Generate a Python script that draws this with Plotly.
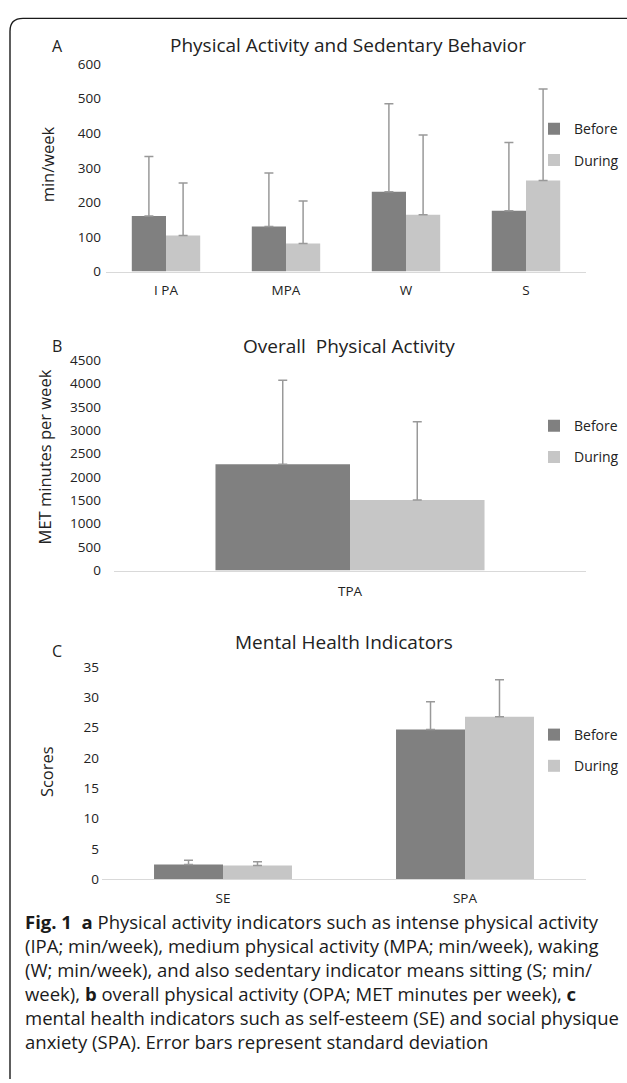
import plotly.graph_objects as go

W, H = 627, 1083

def px_x(p):
    return p / W

def px_y(p):
    return 1 - p / H

# ---------------- data ----------------
series_names = ["Before", "During"]
colors = {"Before": "#808080", "During": "#c6c6c6"}

a_categories = ["I PA", "MPA", "W", "S"]
a_before = [161, 130, 231, 176]
a_during = [104, 81, 164, 263]
a_before_sd = [172, 155, 254, 197]
a_during_sd = [152, 123, 231, 265]
a_ticks = [0, 100, 200, 300, 400, 500, 600]

b_categories = ["TPA"]
b_before = [2270]
b_during = [1510]
b_before_sd = [1800]
b_during_sd = [1670]
b_ticks = [0, 500, 1000, 1500, 2000, 2500, 3000, 3500, 4000, 4500]

c_categories = ["SE", "SPA"]
c_before = [2.43, 24.67]
c_during = [2.27, 26.78]
c_before_sd = [0.71, 4.6]
c_during_sd = [0.60, 6.1]
c_ticks = [0, 5, 10, 15, 20, 25, 30, 35]

caption_lines = [
    "<b>Fig. 1</b>&nbsp; <b>a</b> Physical activity indicators such as intense physical activity",
    "(IPA; min/week), medium physical activity (MPA; min/week), waking",
    "(W; min/week), and also sedentary indicator means sitting (S; min/",
    "week), <b>b</b> overall physical activity (OPA; MET minutes per week), <b>c</b>",
    "mental health indicators such as self-esteem (SE) and social physique",
    "anxiety (SPA). Error bars represent standard deviation",
]

FONT = "Open Sans"
TXT = "#222222"
ERR = "#999999"

fig = go.Figure()

panels = [
    ("x", "y", "legend", a_categories, [a_before, a_during], [a_before_sd, a_during_sd]),
    ("x2", "y2", "legend2", b_categories, [b_before, b_during], [b_before_sd, b_during_sd]),
    ("x3", "y3", "legend3", c_categories, [c_before, c_during], [c_before_sd, c_during_sd]),
]

for xa, ya, lg, cats, vals, sds in panels:
    for name, v, sd in zip(series_names, vals, sds):
        fig.add_trace(go.Bar(
            x=cats, y=v, name=name, xaxis=xa, yaxis=ya, legend=lg,
            legendgroup=lg + name,
            marker=dict(color=colors[name], line=dict(width=0)),
            error_y=dict(type="data", array=sd, arrayminus=[0] * len(sd),
                         symmetric=False, color=ERR, thickness=1.5, width=4.5),
        ))

def xaxis_opts(standoff):
    return dict(showgrid=False, zeroline=False, showline=True, linecolor="#d9d9d9",
                linewidth=1, ticks="", ticklabelstandoff=standoff,
                tickfont=dict(family=FONT, size=13.5, color=TXT), fixedrange=True)

def yaxis_opts(standoff):
    return dict(showgrid=False, zeroline=False, showline=False, ticks="",
                ticklabelstandoff=standoff,
                tickfont=dict(family=FONT, size=13.5, color=TXT), fixedrange=True)

legend_common = dict(font=dict(family=FONT, size=14, color=TXT), bgcolor="rgba(0,0,0,0)",
                     traceorder="grouped", tracegroupgap=10, itemwidth=30,
                     xanchor="left", yanchor="top")

fig.update_layout(
    width=W, height=H,
    margin=dict(l=0, r=0, t=0, b=0),
    paper_bgcolor="white", plot_bgcolor="white",
    barmode="group", bargap=0.43, bargroupgap=0,
    font=dict(family=FONT, color=TXT),
    xaxis=dict(domain=[px_x(106), px_x(586)], anchor="y", **xaxis_opts(6)),
    yaxis=dict(domain=[px_y(267), px_y(56)], anchor="x", range=[0, 600], tickvals=a_ticks,
               **yaxis_opts(4)),
    xaxis2=dict(domain=[px_x(114), px_x(586)], anchor="y2", **xaxis_opts(8)),
    yaxis2=dict(domain=[px_y(571), px_y(357)], anchor="x2", range=[0, 4500], tickvals=b_ticks,
                **yaxis_opts(12)),
    xaxis3=dict(domain=[px_x(102), px_x(586)], anchor="y3", **xaxis_opts(7)),
    yaxis3=dict(domain=[px_y(885), px_y(669)], anchor="x3", range=[0, 35], tickvals=c_ticks,
                **yaxis_opts(2)),
    legend=dict(x=px_x(534), y=px_y(106), **legend_common),
    legend2=dict(x=px_x(534), y=px_y(408), **legend_common),
    legend3=dict(x=px_x(534), y=px_y(722), **legend_common),
)

# panel letters
for t, x, y in [("A", 57, 38), ("B", 57, 343), ("C", 57, 653)]:
    fig.add_annotation(text=t, x=px_x(x), y=px_y(y), xref="paper", yref="paper",
                       showarrow=False, xanchor="center", yanchor="middle",
                       font=dict(family=FONT, size=16, color=TXT))

# panel titles
titles = [
    ("Physical Activity and Sedentary Behavior", 348, 37),
    ("Overall&nbsp; Physical Activity", 349, 343),
    ("Mental Health Indicators", 344, 644),
]
for t, x, y in titles:
    fig.add_annotation(text=t, x=px_x(x), y=px_y(y), xref="paper", yref="paper",
                       showarrow=False, xanchor="center", yanchor="middle",
                       font=dict(family=FONT, size=19, color=TXT))

# y-axis titles
ytitles = [
    ("min/week", 47, 158),
    ("MET minutes per week", 44, 456),
    ("Scores", 46, 776),
]
for t, x, y in ytitles:
    fig.add_annotation(text=t, x=px_x(x), y=px_y(y), xref="paper", yref="paper",
                       showarrow=False, xanchor="center", yanchor="middle", textangle=-90,
                       font=dict(family=FONT, size=16.5, color=TXT))

# caption (one multi-line text block)
fig.add_annotation(text="<br>".join(caption_lines), x=px_x(24), y=px_y(988.5),
                   xref="paper", yref="paper", showarrow=False, align="left",
                   xanchor="left", yanchor="middle", borderpad=0,
                   font=dict(family=FONT, size=18.5, color="#1a1a1a"))

# rounded frame at top-left
r = 13
fig.add_shape(type="path", xref="paper", yref="paper",
              path=(f"M {px_x(10)},{px_y(H + 5)} L {px_x(10)},{px_y(9.5 + r)} "
                    f"Q {px_x(10)},{px_y(9.5)} {px_x(10 + r)},{px_y(9.5)} L {px_x(W + 5)},{px_y(9.5)}"),
              line=dict(color="#1a1a1a", width=1.4))

fig.write_html("out.html", config={"displayModeBar": False},
               post_script="document.body.style.margin='0px';document.body.style.overflow='hidden';")
